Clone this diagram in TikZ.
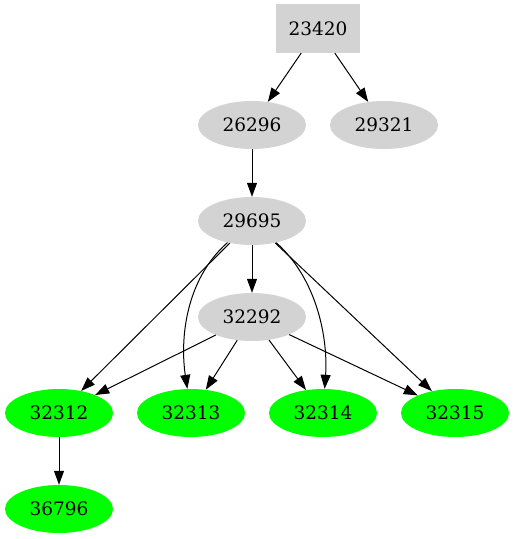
\documentclass[tikz,border=0pt]{standalone}
\usepackage{fontspec}
\setmainfont{DejaVu Serif}
\usetikzlibrary{arrows.meta,shapes.geometric}
\definecolor{gv}{RGB}{211,211,211}
\definecolor{gg}{RGB}{0,255,0}
\begin{document}
\begin{tikzpicture}[x=1pt,y=-1pt,
  lab/.style={font=\fontsize{18.5}{20}\selectfont, text=black, inner sep=0pt},
  gbox/.style={lab, rectangle, fill=gv, minimum width=84pt, minimum height=49pt},
  gell/.style={lab, ellipse, fill=gv, minimum width=108pt, minimum height=48pt},
  leaf/.style={lab, ellipse, fill=gg, minimum width=108pt, minimum height=48pt},
  edge/.style={line width=1pt, -{Triangle[length=14pt,width=10pt]}}]
\useasboundingbox (0,0) rectangle (514,539);
\node[gbox] (a) at (318,28.5) {23420};
\node[gell] (b) at (252,125) {26296};
\node[gell] (c) at (384,125) {29321};
\node[gell] (d) at (252,221) {29695};
\node[gell] (e) at (252,317) {32292};
\node[leaf] (f) at (59,413) {32312};
\node[leaf] (g) at (191,413) {32313};
\node[leaf] (h) at (323,413) {32314};
\node[leaf] (i) at (455,413) {32315};
\node[leaf] (j) at (59,509) {36796};
\draw[edge] (a) -- (b);
\draw[edge] (a) -- (c);
\draw[edge] (b) -- (d);
\draw[edge] (d) -- (e);
\draw[edge] (d) -- (f);
\draw[edge] (d) .. controls (185,280) and (180,340) .. (g);
\draw[edge] (d) .. controls (318,280) and (328,340) .. (h);
\draw[edge] (d) -- (i);
\draw[edge] (e) -- (f);
\draw[edge] (e) -- (g);
\draw[edge] (e) -- (h);
\draw[edge] (e) -- (i);
\draw[edge] (f) -- (j);
\end{tikzpicture}
\end{document}
